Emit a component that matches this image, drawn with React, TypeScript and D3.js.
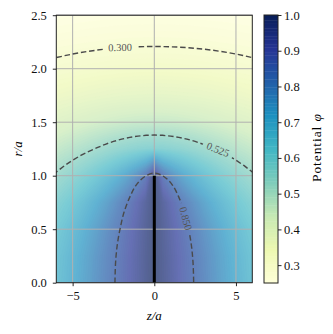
import React from "react";
import * as d3 from "d3";

// potential phi on the z/a >= 0 half (the field is mirror symmetric in z)
const zHalf = [0, 0.5, 1, 1.5, 2, 2.5, 3, 3.5, 4, 4.5, 5, 5.5, 6];
const rRows = [0, 0.25, 0.5, 0.75, 1, 1.25, 1.5, 1.75, 2, 2.25, 2.5];
const phiGrid = [
  [1, 0.968, 0.9365, 0.9052, 0.8743, 0.844, 0.8144, 0.7857, 0.7578, 0.7308, 0.7048, 0.6799, 0.656],
  [1, 0.9672, 0.9345, 0.9022, 0.8705, 0.8395, 0.8092, 0.7799, 0.7518, 0.7244, 0.6982, 0.6732, 0.6492],
  [1, 0.9633, 0.927, 0.8913, 0.8566, 0.8231, 0.791, 0.7603, 0.7311, 0.7031, 0.6771, 0.6522, 0.6286],
  [1, 0.9522, 0.9058, 0.862, 0.8212, 0.7837, 0.7492, 0.7173, 0.6881, 0.6608, 0.6357, 0.6122, 0.5903],
  [1, 0.8583, 0.8003, 0.7567, 0.7203, 0.6887, 0.6605, 0.6352, 0.6118, 0.5903, 0.5704, 0.5518, 0.534],
  [0.5903, 0.5885, 0.5832, 0.5751, 0.565, 0.5537, 0.5416, 0.5292, 0.5167, 0.5043, 0.4922, 0.4802, 0.4686],
  [0.4646, 0.464, 0.4623, 0.4596, 0.4559, 0.4514, 0.4462, 0.4405, 0.4343, 0.4278, 0.421, 0.4141, 0.407],
  [0.3872, 0.387, 0.3862, 0.3848, 0.383, 0.3808, 0.3781, 0.375, 0.3716, 0.3679, 0.3639, 0.3598, 0.3554],
  [0.3333, 0.3332, 0.3327, 0.332, 0.3309, 0.3296, 0.328, 0.3262, 0.3241, 0.3218, 0.3193, 0.3167, 0.3139],
  [0.2932, 0.2931, 0.2928, 0.2923, 0.2917, 0.2908, 0.2898, 0.2886, 0.2872, 0.2857, 0.2841, 0.2823, 0.2804],
  [0.262, 0.2619, 0.2617, 0.2614, 0.2609, 0.2604, 0.2596, 0.2588, 0.2579, 0.2568, 0.2557, 0.2544, 0.2531],
];
const diskRadius = 1;
const lineLevels = [0.3, 0.525];
// the 0.850 level hugs the disk edge (z >= 0 half)
const z085 = [2.41, 2.37, 2.27, 2.1, 1.85, 1.5, 1.1, 0.6, 0];
const r085 = [0, 0.19, 0.35, 0.5, 0.66, 0.8, 0.915, 0.99, 1.025];
const lineLabelText = ["0.300", "0.525", "0.850"];
const zTicks = [-5, 0, 5];
const rTicks = [0, 0.5, 1, 1.5, 2, 2.5];
const cbTicks = [0.3, 0.4, 0.5, 0.6, 0.7, 0.8, 0.9, 1.0];
const cbMin = 0.25;
const cbMax = 1.0;
const nBands = 100;

const W = 333, H = 334;
const FONT = "'Liberation Serif', 'DejaVu Serif', serif";

const App = () => {
  const axRef = React.useRef(null);

  const x = d3.scaleLinear().domain([-6, 6]).range([56.3, 252.3]);
  const y = d3.scaleLinear().domain([0, 2.5]).range([282.7, 15.2]);
  const cb = d3.scaleLinear().domain([cbMin, cbMax]).range([283, 15]);
  const cmap = d3.scaleLinear<string>()
    .domain(d3.range(9).map(i => cbMin + (i * (cbMax - cbMin)) / 8))
    .range(d3.schemeYlGnBu[9]);

  // full grid (mirror of the z >= 0 half)
  const zFull = [...zHalf.slice(1).reverse().map(z => -z), ...zHalf];
  const nx = zFull.length, ny = rRows.length;
  const values: number[] = [];
  rRows.forEach((r, j) => zFull.forEach((z, i) => values.push(phiGrid[j][Math.abs(i - (zHalf.length - 1))])));
  const dz = zFull[1] - zFull[0], dr = rRows[1] - rRows[0];

  const proj = d3.geoTransform({
    point(px, py) {
      this.stream.point(x(zFull[0] + (px - 0.5) * dz), y(rRows[0] + (py - 0.5) * dr));
    },
  });
  const path = d3.geoPath(proj);

  const step = (cbMax - cbMin) / nBands;
  const levels = d3.range(nBands).map(i => cbMin + i * step);
  const bands = d3.contours().size([nx, ny]).thresholds(levels)(values);
  const gen = d3.contours().size([nx, ny]);
  const lines = lineLevels.map(l => gen.contour(values, l));

  const pts085 = [
    ...z085.map((z, i) => [-z, r085[i]]),
    ...z085.slice(0, -1).reverse().map((z, i) => [z, r085[r085.length - 2 - i]]),
  ];
  const line085 = d3.line().x(d => x(d[0])).y(d => y(d[1])).curve(d3.curveCatmullRom)(pts085 as [number, number][]);

  // label placement (data coords + angle in deg)
  const labelPos = [
    { z: -2.1, r: 2.2, a: -1 },
    { z: 3.9, r: 1.245, a: 22 },
    { z: 1.93, r: 0.6, a: 75 },
  ];

  React.useLayoutEffect(() => {
    const svg = d3.select(axRef.current);
    svg.selectAll("*").remove();
    const style = (g) => {
      g.attr("font-family", FONT).attr("font-size", 12.5);
      g.select(".domain").remove();
      g.selectAll(".tick line").attr("stroke", "#111").attr("stroke-width", 0.9);
      g.selectAll(".tick text").attr("fill", "#111");
    };
    svg.append("g")
      .attr("transform", `translate(0, ${y(0)})`)
      .call(d3.axisBottom(x).tickValues(zTicks).tickSize(3.5).tickPadding(5).tickFormat(d3.format("d")))
      .call(style);
    svg.append("g")
      .attr("transform", `translate(${x(-6)}, 0)`)
      .call(d3.axisLeft(y).tickValues(rTicks).tickSize(3.5).tickPadding(6).tickFormat(d3.format(".1f")))
      .call(style);
    svg.append("g")
      .attr("transform", `translate(278, 0)`)
      .call(d3.axisRight(cb).tickValues(cbTicks).tickSize(3.5).tickPadding(2.5).tickFormat(d3.format(".1f")))
      .call(style);
  }, []);

  return (
    <svg width={W} height={H} style={{ position: "absolute", left: 0, top: 0, background: "white" }}>
      <defs>
        <clipPath id="plotClip">
          <rect x={x(-6)} y={y(2.5)} width={x(6) - x(-6)} height={y(0) - y(2.5)} />
        </clipPath>
        <mask id="gapMask" maskUnits="userSpaceOnUse" x={0} y={0} width={W} height={H}>
          <rect x={0} y={0} width={W} height={H} fill="white" />
          {labelPos.map((p, i) => (
            <rect key={i} x={-16} y={-5} width={32} height={10} fill="black"
              transform={`translate(${x(p.z)},${y(p.r)}) rotate(${p.a})`} />
          ))}
        </mask>
      </defs>

      {/* filled potential */}
      <g clipPath="url(#plotClip)" opacity={0.7}>
        {bands.map((b, i) => (
          <path key={i} d={path(b) || ""} fill={cmap(b.value + step / 2)} stroke={cmap(b.value + step / 2)} strokeWidth={0.3} />
        ))}
      </g>

      {/* grid */}
      <g stroke="#b0b0b0" strokeWidth={1}>
        {zTicks.map(t => <line key={t} x1={x(t)} x2={x(t)} y1={y(0)} y2={y(2.5)} />)}
        {rTicks.map(t => <line key={t} x1={x(-6)} x2={x(6)} y1={y(t)} y2={y(t)} />)}
      </g>

      {/* contour lines */}
      <g mask="url(#gapMask)">
        <g clipPath="url(#plotClip)" fill="none" stroke="#4a4a4a" strokeWidth={1.4} strokeDasharray="5.5,2.8">
          {lines.map((l, i) => <path key={i} d={path(l) || ""} />)}
          <path d={line085 || ""} />
        </g>
      </g>
      {labelPos.map((p, i) => (
        <text key={i} transform={`translate(${x(p.z)},${y(p.r)}) rotate(${p.a})`} textAnchor="middle" dy="0.35em"
          fontFamily={FONT} fontSize={10.5} fill="#555">{lineLabelText[i]}</text>
      ))}

      {/* disk */}
      <line x1={x(0)} x2={x(0)} y1={y(0)} y2={y(diskRadius)} stroke="black" strokeWidth={3} />

      {/* frame */}
      <rect x={x(-6)} y={y(2.5)} width={x(6) - x(-6)} height={y(0) - y(2.5)} fill="none" stroke="#222" strokeWidth={1} />

      {/* colorbar */}
      <g>
        {levels.map((l, i) => (
          <rect key={i} x={264} width={14} y={cb(l + step)} height={cb(l) - cb(l + step) + 0.4} fill={cmap(l + step / 2)} />
        ))}
        <rect x={264} y={cb(cbMax)} width={14} height={cb(cbMin) - cb(cbMax)} fill="none" stroke="#222" strokeWidth={1} />
      </g>

      <g ref={axRef} />

      <text x={x(0)} y={320} textAnchor="middle" fontFamily={FONT} fontSize={13} fontStyle="italic">z/a</text>
      <text transform={`translate(22,${(y(0) + y(2.5)) / 2}) rotate(-90)`} textAnchor="middle" fontFamily={FONT} fontSize={13} fontStyle="italic">r/a</text>
      <text transform={`translate(321,148) rotate(-90)`} textAnchor="middle" fontFamily={FONT} fontSize={13.5}
        textLength={68} lengthAdjust="spacing">
        Potential <tspan fontStyle="italic">φ</tspan>
      </text>
    </svg>
  );
};

export default App;
